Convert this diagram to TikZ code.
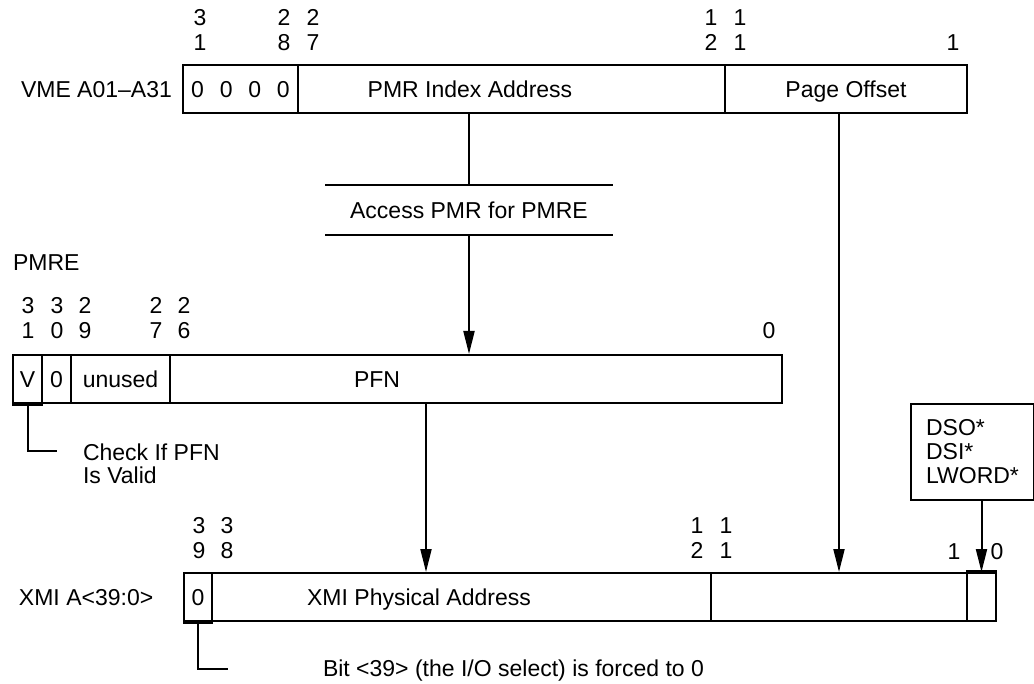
\documentclass[tikz,border=0pt]{standalone}
\usepackage{fontspec}
\setmainfont{Liberation Sans}
\usetikzlibrary{arrows.meta}
\tikzset{txt/.style = {inner sep=0pt, text height=16.5pt, text depth=0pt}}
\tikzset{field/.style = {txt, draw, line width=2pt, minimum height=48pt}}
\tikzset{bitno/.style = {align=center, inner sep=0pt}}
\tikzset{feed/.style = {line width=2pt, -{Triangle[length=23pt,width=11pt]}}}
\tikzset{heavy/.style = {line width=3.5pt}}

\begin{document}
\begin{tikzpicture}[x=1pt, y=-1pt, line width=2pt,
    every node/.style={font=\fontsize{23}{25}\selectfont}]
      \useasboundingbox (0,0) rectangle (1034,684);
      % VME address
      \node [txt, anchor=west] (vmename) at (20,89) {VME A01--A31};
      \node [field, minimum width=115pt] (vmezero) at (240.5,89) {0\hspace{15.8pt}0\hspace{15.8pt}0\hspace{15.8pt}0};
      \node [field, minimum width=427pt] (vmeidx) at (511.5,89) {};
      \node [field, minimum width=242pt] (vmeoff) at (846,89) {Page Offset};
      \node [txt] (vmeidxtext) at (470,89) {PMR Index Address};
      \foreach \x/\a/\b in {200/3/1, 284/2/8, 313/2/7, 711/1/2, 740/1/1}
        \node [bitno] (vmebit\x) at (\x,30) {\a\\\b};
      \node [txt] (vmebitlow) at (953,42.5) {1};
      % PMR lookup
      \node [txt, minimum width=286pt, minimum height=48pt] (acc) at (469,210) {Access PMR for PMRE};
      \draw (acc.north west) -- (acc.north east);
      \draw (acc.south west) -- (acc.south east);
      % PMRE
      \node [txt, anchor=west] (pmrename) at (12,262) {PMRE};
      \node [field, minimum width=29pt] (pv) at (27.5,379) {V};
      \node [field, minimum width=29pt] (pz) at (56.5,379) {0};
      \node [field, minimum width=99pt] (pun) at (120.5,379) {unused};
      \node [field, minimum width=612pt] (pfn) at (476,379) {};
      \node [txt] (pfntext) at (377,379) {PFN};
      \foreach \x/\a/\b in {28/3/1, 57/3/0, 85/2/9, 156/2/7, 184/2/6}
        \node [bitno] (pbit\x) at (\x,318) {\a\\\b};
      \node [txt] (pbitlow) at (769,330.5) {0};
      \node [anchor=west, align=left, inner sep=0pt, font=\fontsize{23}{23}\selectfont] (chk) at (82,464) {Check If PFN\\Is Valid};
      \coordinate (chkend) at (57,451);
      % DS lines
      \node [draw, anchor=north west, minimum width=123pt, minimum height=96pt, align=left,
             inner sep=0pt, font=\fontsize{23}{24}\selectfont] (dso) at (910,403) {DSO*\\DSI*\\LWORD*};
      % XMI address
      \node [txt, anchor=west] (xminame) at (18,597) {XMI A<39:0>};
      \node [field, minimum width=28pt] (xz) at (198,597) {0};
      \node [field, minimum width=499pt] (xphys) at (461.5,597) {};
      \node [field, minimum width=256pt] (xmid) at (839,597) {};
      \node [field, minimum width=29pt] (xlw) at (981.5,597) {};
      \node [txt] (xphystext) at (419,597) {XMI Physical Address};
      \foreach \x/\a/\b in {199/3/9, 227/3/8, 697/1/2, 726/1/1}
        \node [bitno] (xbit\x) at (\x,538.5) {\a\\\b};
      \node [txt] (xbitone) at (954,551) {1};
      \node [txt] (xbitzero) at (997,551) {0};
      \node [txt, anchor=west] (bitnote) at (322,668) {Bit <39> (the I/O select) is forced to 0};
      \coordinate (bitend) at (228,669);
      % connectors
      \draw (acc.north |- vmeidx.south) -- (acc.north);
      \draw [feed] (acc.south) -- (acc.south |- pfn.north);
      \draw [feed] (xmid.north |- vmeoff.south) -- (xmid.north);
      \draw [feed] ([xshift=-50pt]pfn.south) -- ([xshift=-50pt]pfn.south |- xphys.north);
      \draw [feed] (xlw.north |- dso.south) -- (xlw.north);
      \draw (pv.south) |- (chkend);
      \draw (xz.south) |- (bitend);
      \draw [heavy] (pv.south west) -- (pv.south east);
      \draw [heavy] (xz.south west) -- (xz.south east);
      \draw [heavy] (xlw.north west) -- (xlw.north east);
    \end{tikzpicture}
\end{document}
